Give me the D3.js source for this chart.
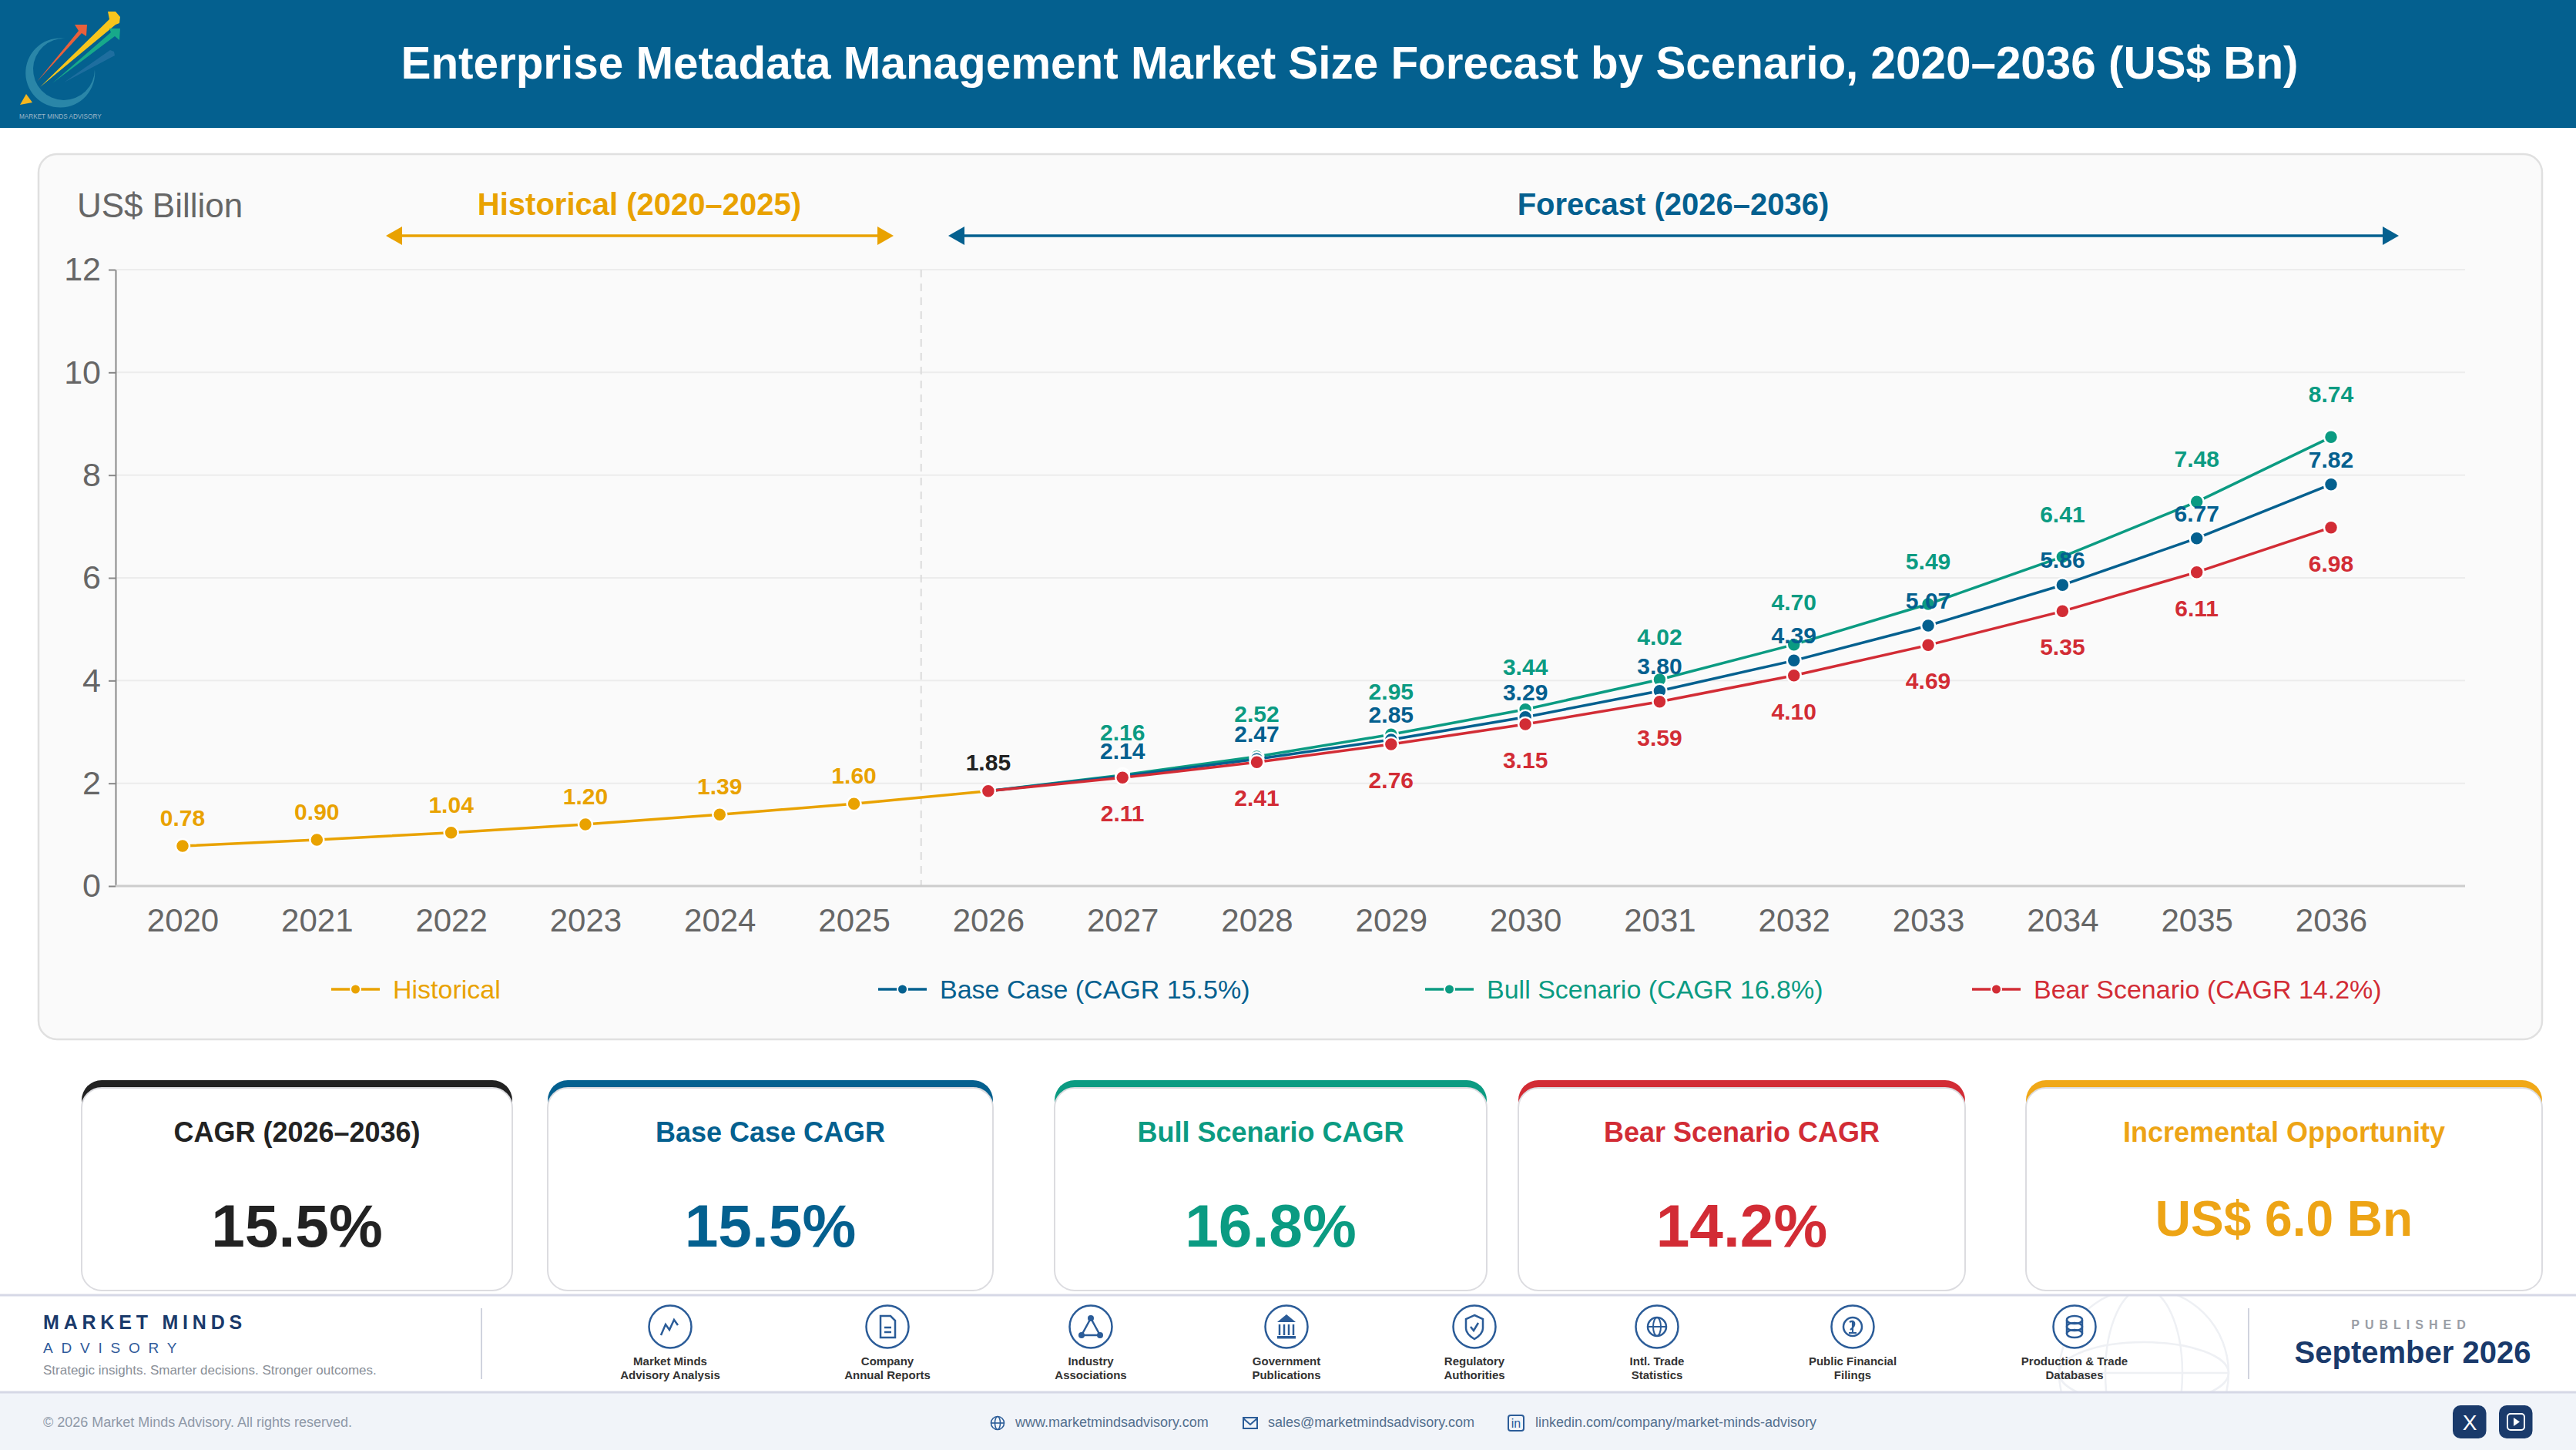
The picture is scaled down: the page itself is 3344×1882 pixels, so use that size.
<!DOCTYPE html>
<html>
<head>
<meta charset="utf-8">
<script src="https://d3js.org/d3.v7.min.js"></script>
<style>
  body { margin: 0; background: #fff; }
  svg { display: block; }
  text { font-family: "Liberation Sans", Arial, sans-serif; }
</style>
</head>
<body>
<div id="chart"></div>
<script>
// chart values
const years = [2020, 2021, 2022, 2023, 2024, 2025, 2026, 2027, 2028, 2029, 2030, 2031, 2032, 2033, 2034, 2035, 2036];
const histYears = [2020, 2021, 2022, 2023, 2024, 2025, 2026];
const foreYears = [2026, 2027, 2028, 2029, 2030, 2031, 2032, 2033, 2034, 2035, 2036];
const historical = [0.78, 0.90, 1.04, 1.20, 1.39, 1.60, 1.85];
const baseCase = [1.85, 2.14, 2.47, 2.85, 3.29, 3.80, 4.39, 5.07, 5.86, 6.77, 7.82];
const bullCase = [1.85, 2.16, 2.52, 2.95, 3.44, 4.02, 4.70, 5.49, 6.41, 7.48, 8.74];
const bearCase = [1.85, 2.11, 2.41, 2.76, 3.15, 3.59, 4.10, 4.69, 5.35, 6.11, 6.98];
const yTicks = [0, 2, 4, 6, 8, 10, 12];

const legendLabels = ["Historical", "Base Case (CAGR 15.5%)", "Bull Scenario (CAGR 16.8%)", "Bear Scenario (CAGR 14.2%)"];
const cardTitles = ["CAGR (2026–2036)", "Base Case CAGR", "Bull Scenario CAGR", "Bear Scenario CAGR", "Incremental Opportunity"];
const cardValues = ["15.5%", "15.5%", "16.8%", "14.2%", "US$ 6.0 Bn"];
const sourceLabels = [["Market Minds", "Advisory Analysis"], ["Company", "Annual Reports"], ["Industry", "Associations"], ["Government", "Publications"], ["Regulatory", "Authorities"], ["Intl. Trade", "Statistics"], ["Public Financial", "Filings"], ["Production & Trade", "Databases"]];

const amber = "#e9a200", blue = "#04608f", green = "#0b9b82", red = "#d22c35", ink = "#222222", navy = "#1a3a6b", iconBlue = "#2b5c98";
const W = 3344, H = 1882;

const svg = d3.select("#chart").append("svg").attr("width", W).attr("height", H);

function label(g, x, y, txt, size, color, opts) {
  opts = opts || {};
  return g.append("text").attr("x", x).attr("y", y).text(txt)
    .attr("font-size", size).attr("fill", color)
    .attr("font-weight", opts.bold ? "bold" : "normal")
    .attr("text-anchor", opts.anchor || "start")
    .attr("letter-spacing", opts.spacing || null);
}

// header
svg.append("rect").attr("width", W).attr("height", 166).attr("fill", blue);
label(svg, 1752, 102, "Enterprise Metadata Management Market Size Forecast by Scenario, 2020–2036 (US$ Bn)", 58.4, "#fff", { bold: true, anchor: "middle" });

// logo
const logo = svg.append("g");
logo.append("path").attr("d", "M85,50 A45,45 0 1 0 123,90 A40,40 0 1 1 85,50 Z").attr("fill", "#2a86a8");
[["#e8603c", "48,106 102,40 97,32 113,32 112,47 106,43", 1],
 ["#f7c51c", "52,113 142,25 140,15 150,15 156,22 155,30 150,32", 1],
 ["#17a98a", "68,108 144,42 142,37 156,37 155,52 149,47", 1],
 ["#2a75a5", "83,107 143,65 148,67 149,72", 0.7]].forEach(d => {
  logo.append("polygon").attr("points", d[1]).attr("fill", d[0]).attr("opacity", d[2]);
});
logo.append("polygon").attr("points", "26,136 34,122 42,133").attr("fill", "#f6b61e");
label(logo, 25, 154, "MARKET MINDS ADVISORY", 8.2, "#9db7c9");

// chart panel
svg.append("rect").attr("x", 50).attr("y", 200).attr("width", 3250).attr("height", 1149).attr("rx", 24)
  .attr("fill", "#fafafa").attr("stroke", "#e0e0e0").attr("stroke-width", 2.5);

const x = d3.scalePoint().domain(years).range([237, 3026]);
const y = d3.scaleLinear().domain([0, 12]).range([1150, 350]);

// grid
svg.append("g").selectAll("line").data(yTicks.filter(d => d > 0)).join("line")
  .attr("x1", 150).attr("x2", 3200).attr("y1", d => y(d)).attr("y2", d => y(d))
  .attr("stroke", "#ececec").attr("stroke-width", 2);

// divider between historical and forecast
const splitX = (x(2025) + x(2026)) / 2;
svg.append("line").attr("x1", splitX).attr("x2", splitX).attr("y1", y(12)).attr("y2", y(0))
  .attr("stroke", "#dcdcdc").attr("stroke-width", 2).attr("stroke-dasharray", "10 8");

// axes
const yAxis = svg.append("g").attr("transform", "translate(150,0)")
  .call(d3.axisLeft(y).tickValues(yTicks).tickFormat(d3.format("d")).tickSize(9).tickSizeOuter(0).tickPadding(10));
yAxis.select(".domain").attr("stroke", "#888").attr("stroke-width", 2);
yAxis.selectAll(".tick line").attr("stroke", "#888").attr("stroke-width", 2);
yAxis.selectAll("text").attr("font-size", 43).attr("fill", "#666").attr("font-family", "Liberation Sans");

const xAxis = svg.append("g").attr("transform", "translate(0,1150)")
  .call(d3.axisBottom(x).tickFormat(d3.format("d")).tickSize(0).tickPadding(29));
xAxis.select(".domain").remove();
xAxis.selectAll("text").attr("font-size", 42).attr("fill", "#666").attr("font-family", "Liberation Sans");
svg.append("line").attr("x1", 150).attr("x2", 3200).attr("y1", y(0)).attr("y2", y(0)).attr("stroke", "#cccccc").attr("stroke-width", 3);

// axis caption and period arrows
label(svg, 100, 282, "US$ Billion", 44, "#666");
label(svg, 830, 279, "Historical (2020–2025)", 40, amber, { bold: true, anchor: "middle" });
label(svg, 2172, 279, "Forecast (2026–2036)", 40, blue, { bold: true, anchor: "middle" });

function periodArrow(x1, x2, color) {
  const ay = 306;
  svg.append("line").attr("x1", x1 + 10).attr("x2", x2 - 10).attr("y1", ay).attr("y2", ay).attr("stroke", color).attr("stroke-width", 3.5);
  svg.append("polygon").attr("points", [[x1, ay], [x1 + 21, ay - 12], [x1 + 21, ay + 12]].join(" ")).attr("fill", color);
  svg.append("polygon").attr("points", [[x2, ay], [x2 - 21, ay - 12], [x2 - 21, ay + 12]].join(" ")).attr("fill", color);
}
periodArrow(501, 1160, amber);
periodArrow(1231, 3114, blue);

// series
const series = [
  { years: histYears, values: historical, color: amber, offset: -26 },
  { years: foreYears, values: bullCase, color: green, offset: -45 },
  { years: foreYears, values: baseCase, color: blue, offset: -22 },
  { years: foreYears, values: bearCase, color: red, offset: 57 }
];
const line = d3.line().x(d => x(d[0])).y(d => y(d[1]));

series.forEach(s => {
  const pts = d3.zip(s.years, s.values);
  svg.append("path").attr("d", line(pts)).attr("fill", "none").attr("stroke", s.color).attr("stroke-width", 3.5);
  svg.append("g").selectAll("circle").data(pts).join("circle")
    .attr("cx", d => x(d[0])).attr("cy", d => y(d[1])).attr("r", 9)
    .attr("fill", s.color).attr("stroke", "#fff").attr("stroke-width", 2.5);
});

// value labels go on top of the marks; 2026 is shared, so it gets one black label
series.forEach(s => {
  const pts = d3.zip(s.years, s.values).filter(d => d[0] !== 2026);
  svg.append("g").selectAll("text").data(pts).join("text")
    .attr("x", d => x(d[0])).attr("y", d => y(d[1]) + s.offset)
    .attr("text-anchor", "middle").attr("font-size", 30).attr("font-weight", "bold")
    .attr("fill", s.color).text(d => d[1].toFixed(2));
});
label(svg, x(2026), y(historical[6]) - 27, historical[6].toFixed(2), 30, ink, { bold: true, anchor: "middle" });

// legend
const legendColors = [amber, blue, green, red];
legendLabels.forEach((name, i) => {
  const lx = 430 + i * 710;
  const g = svg.append("g");
  g.append("line").attr("x1", lx).attr("x2", lx + 63).attr("y1", 1284).attr("y2", 1284).attr("stroke", legendColors[i]).attr("stroke-width", 3.5);
  g.append("circle").attr("cx", lx + 31.5).attr("cy", 1284).attr("r", 6.5).attr("fill", legendColors[i]).attr("stroke", "#fafafa").attr("stroke-width", 2);
  label(g, lx + 80, 1296, name, 34, legendColors[i]);
});

// stat cards
const cardX = [[106, 665], [711, 1289], [1369, 1930], [1971, 2551], [2630, 3300]];
const cardColors = [ink, blue, green, red, "#f0a818"];
const cardText = [ink, blue, green, red, "#eda415"];
cardTitles.forEach((title, i) => {
  const g = svg.append("g"), x0 = cardX[i][0], x1 = cardX[i][1], mid = (x0 + x1) / 2;
  g.append("rect").attr("x", x0).attr("y", 1402).attr("width", x1 - x0).attr("height", 70).attr("rx", 26).attr("fill", cardColors[i]);
  g.append("rect").attr("x", x0).attr("y", 1412).attr("width", x1 - x0).attr("height", 263).attr("rx", 26)
    .attr("fill", "#fff").attr("stroke", "#dcdce0").attr("stroke-width", 2);
  label(g, mid, 1482, title, 36, cardText[i], { bold: true, anchor: "middle" });
  if (i < 4) label(g, mid, 1618, cardValues[i], 78.5, cardText[i], { bold: true, anchor: "middle" });
  else label(g, mid, 1604, cardValues[i], 64, cardText[i], { bold: true, anchor: "middle" });
});

// footer bands
svg.append("rect").attr("y", 1807).attr("width", W).attr("height", 75).attr("fill", "#f1f4f9");

// faint globe behind the published block
const clip = svg.append("clipPath").attr("id", "band").append("rect").attr("y", 1682).attr("width", W).attr("height", 124);
const globe = svg.append("g").attr("clip-path", "url(#band)").attr("fill", "none").attr("stroke", "#eef0f4").attr("stroke-width", 2.5);
globe.append("circle").attr("cx", 2783).attr("cy", 1782).attr("r", 110);
globe.append("ellipse").attr("cx", 2783).attr("cy", 1782).attr("rx", 50).attr("ry", 110);
globe.append("ellipse").attr("cx", 2783).attr("cy", 1782).attr("rx", 110).attr("ry", 40);
globe.append("line").attr("x1", 2673).attr("x2", 2893).attr("y1", 1782).attr("y2", 1782);

svg.append("line").attr("x1", 0).attr("x2", W).attr("y1", 1681).attr("y2", 1681).attr("stroke", "#d6d8e6").attr("stroke-width", 3);
svg.append("line").attr("x1", 0).attr("x2", W).attr("y1", 1807).attr("y2", 1807).attr("stroke", "#d6d8e6").attr("stroke-width", 3);

label(svg, 56, 1725, "MARKET MINDS", 25, navy, { bold: true, spacing: 5.8 });
label(svg, 56, 1756, "ADVISORY", 19, "#2f5a9a", { spacing: 10.8 });
label(svg, 56, 1784, "Strategic insights. Smarter decisions. Stronger outcomes.", 17, "#8a8f98");
[625, 2919].forEach(dx => {
  svg.append("line").attr("x1", dx).attr("x2", dx).attr("y1", 1698).attr("y2", 1790).attr("stroke", "#d0d3de").attr("stroke-width", 2);
});

// source icons, each drawn around the centre of its circle
const sourceX = [870, 1152, 1416, 1670, 1914, 2151, 2405, 2693];
const iconDraw = [
  g => g.append("polyline").attr("points", "-12,11 -6,-3 -1,4 5,-9 10,-2").attr("fill", "none").attr("stroke-width", 2.5),
  g => { g.append("path").attr("d", "M-9,-14 H4 L10,-8 V14 H-9 Z").attr("fill", "none").attr("stroke-width", 2.5);
         g.append("path").attr("d", "M-4,1 H5 M-4,7 H5").attr("stroke-width", 2.5); },
  g => { g.append("polygon").attr("points", "0,-11 -12,11 12,11").attr("fill", "none").attr("stroke-width", 2.5);
         [[0, -11], [-12, 11], [12, 11]].forEach(p => g.append("circle").attr("cx", p[0]).attr("cy", p[1]).attr("r", 4).attr("fill", iconBlue).attr("stroke", "none")); },
  g => { g.append("polygon").attr("points", "0,-16 -12,-6 12,-6").attr("fill", iconBlue).attr("stroke", "none");
         g.append("path").attr("d", "M-9,-3 V11 M-3,-3 V11 M3,-3 V11 M9,-3 V11").attr("stroke-width", 2.5);
         g.append("rect").attr("x", -12).attr("y", 12).attr("width", 24).attr("height", 3.5).attr("fill", iconBlue).attr("stroke", "none"); },
  g => { g.append("path").attr("d", "M0,-15 L11,-10 V2 C11,9 5,13 0,16 C-5,13 -11,9 -11,2 V-10 Z").attr("fill", "none").attr("stroke-width", 2.5);
         g.append("polyline").attr("points", "-5,0 -1,5 5,-5").attr("fill", "none").attr("stroke-width", 2.5); },
  g => { g.append("circle").attr("r", 12).attr("fill", "none").attr("stroke-width", 2.5);
         g.append("ellipse").attr("rx", 5).attr("ry", 12).attr("fill", "none").attr("stroke-width", 2);
         g.append("line").attr("x1", -12).attr("x2", 12).attr("stroke-width", 2); },
  g => { g.append("circle").attr("r", 12).attr("fill", "none").attr("stroke-width", 2.5);
         g.append("path").attr("d", "M-4,-6 C2,-10 6,-3 -3,4 M-5,8 H5 M0,-8 V8").attr("fill", "none").attr("stroke-width", 2.2); },
  g => { [-9, 0, 9].forEach(dy => g.append("ellipse").attr("cy", dy).attr("rx", 10).attr("ry", 5).attr("fill", "none").attr("stroke-width", 2.5));
         g.append("path").attr("d", "M-10,-9 V9 M10,-9 V9").attr("stroke-width", 2.5); }
];
sourceLabels.forEach((lines, i) => {
  const g = svg.append("g").attr("transform", `translate(${sourceX[i]},1722)`).attr("stroke", iconBlue);
  g.append("circle").attr("r", 27.5).attr("fill", "#fff").attr("stroke-width", 2.5);
  iconDraw[i](g);
  lines.forEach((t, k) => {
    label(g, 0, 50 + k * 17.5, t, 15, "#333", { bold: true, anchor: "middle" }).attr("stroke", "none");
  });
});

label(svg, 3130, 1725, "PUBLISHED", 16, "#9a9ea6", { bold: true, anchor: "middle", spacing: 7 });
label(svg, 3132, 1769, "September 2026", 40, navy, { bold: true, anchor: "middle" });

// bottom strip
const linkColor = "#54708f";
label(svg, 56, 1852, "© 2026 Market Minds Advisory. All rights reserved.", 18, "#8f99a8");
label(svg, 1318, 1852, "www.marketmindsadvisory.com", 18, linkColor);
label(svg, 1646, 1852, "sales@marketmindsadvisory.com", 18, linkColor);
label(svg, 1993, 1852, "linkedin.com/company/market-minds-advisory", 18, linkColor);

const web = svg.append("g").attr("transform", "translate(1295,1847)").attr("fill", "none").attr("stroke", iconBlue).attr("stroke-width", 1.6);
web.append("circle").attr("r", 8.5);
web.append("ellipse").attr("rx", 3.5).attr("ry", 8.5);
web.append("line").attr("x1", -8.5).attr("x2", 8.5);
const mail = svg.append("g").attr("transform", "translate(1623,1847)").attr("fill", "none").attr("stroke", iconBlue).attr("stroke-width", 2);
mail.append("rect").attr("x", -9).attr("y", -7).attr("width", 18).attr("height", 14);
mail.append("polyline").attr("points", "-9,-6 0,2 9,-6");
const linked = svg.append("g").attr("transform", "translate(1968,1847)");
linked.append("rect").attr("x", -10).attr("y", -10).attr("width", 20).attr("height", 20).attr("rx", 3).attr("fill", "none").attr("stroke", iconBlue).attr("stroke-width", 2);
label(linked, 0, 6, "in", 16, iconBlue, { anchor: "middle" });

[3184, 3244].forEach((bx, i) => {
  const g = svg.append("g");
  g.append("rect").attr("x", bx).attr("y", 1824).attr("width", 43.5).attr("height", 43).attr("rx", 10).attr("fill", navy);
  if (i === 0) {
    label(g, bx + 22, 1856, "X", 28, "#fff", { anchor: "middle" });
  } else {
    g.append("rect").attr("x", bx + 11).attr("y", 1835).attr("width", 22).attr("height", 21).attr("rx", 4).attr("fill", "none").attr("stroke", "#fff").attr("stroke-width", 2);
    g.append("polygon").attr("points", [[bx + 19, 1840], [bx + 27, 1845.5], [bx + 19, 1851]].join(" ")).attr("fill", "#fff");
  }
});
</script>
</body>
</html>
